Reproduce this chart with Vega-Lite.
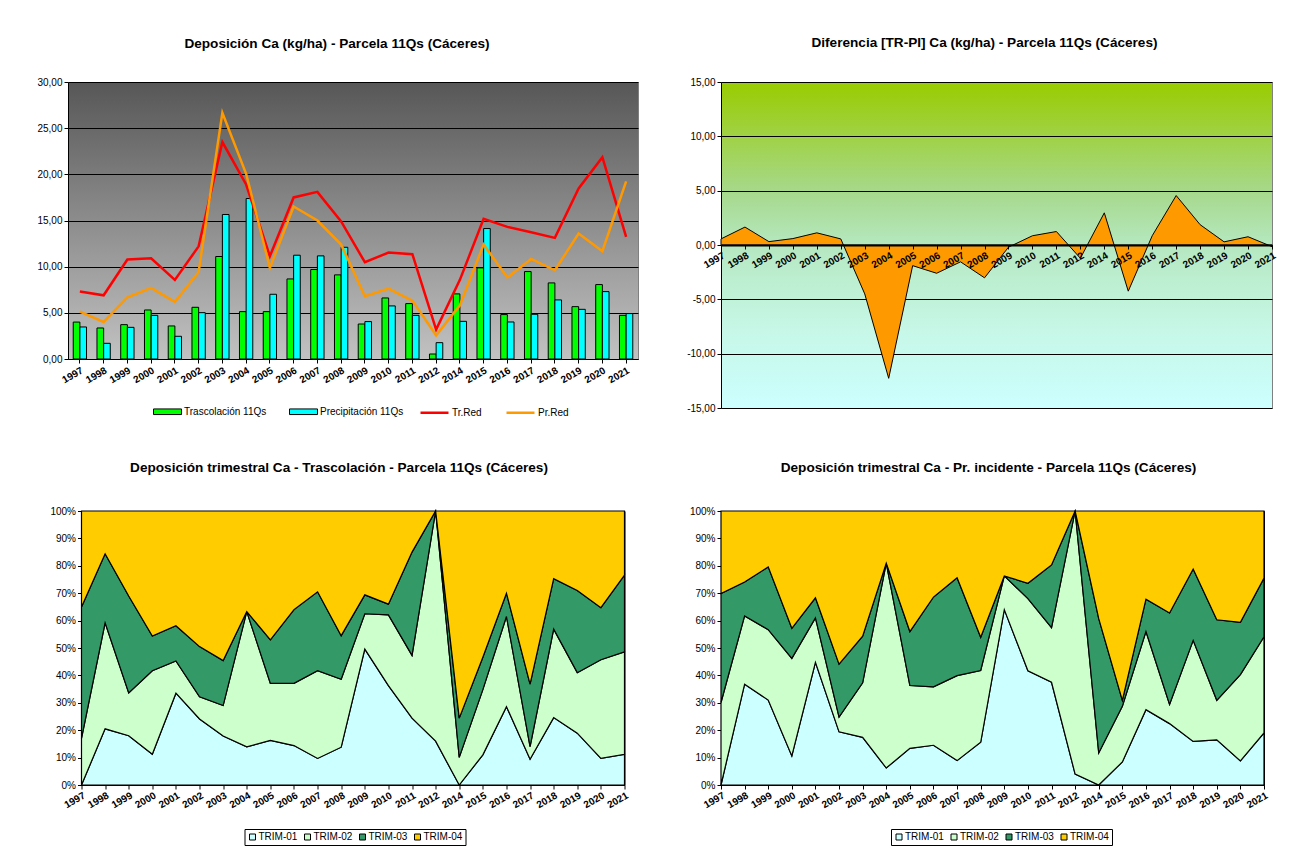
{
"$schema":"https://vega.github.io/schema/vega-lite/v6.json",
"background":"white",
"padding":{"left":36,"top":35,"right":5,"bottom":5},
"datasets":{
"bars":[
{"year":"1997","serie":"Trascolación  11Qs","value":4.0},{"year":"1998","serie":"Trascolación  11Qs","value":3.36},{"year":"1999","serie":"Trascolación  11Qs","value":3.72},{"year":"2000","serie":"Trascolación  11Qs","value":5.31},{"year":"2001","serie":"Trascolación  11Qs","value":3.58},{"year":"2002","serie":"Trascolación  11Qs","value":5.6},{"year":"2003","serie":"Trascolación  11Qs","value":11.1},{"year":"2004","serie":"Trascolación  11Qs","value":5.13},{"year":"2005","serie":"Trascolación  11Qs","value":5.13},{"year":"2006","serie":"Trascolación  11Qs","value":8.67},{"year":"2007","serie":"Trascolación  11Qs","value":9.69},{"year":"2008","serie":"Trascolación  11Qs","value":9.11},{"year":"2009","serie":"Trascolación  11Qs","value":3.79},{"year":"2010","serie":"Trascolación  11Qs","value":6.61},{"year":"2011","serie":"Trascolación  11Qs","value":6.0},{"year":"2012","serie":"Trascolación  11Qs","value":0.54},{"year":"2014","serie":"Trascolación  11Qs","value":7.05},{"year":"2015","serie":"Trascolación  11Qs","value":9.87},{"year":"2016","serie":"Trascolación  11Qs","value":4.81},{"year":"2017","serie":"Trascolación  11Qs","value":9.47},{"year":"2018","serie":"Trascolación  11Qs","value":8.24},{"year":"2019","serie":"Trascolación  11Qs","value":5.67},{"year":"2020","serie":"Trascolación  11Qs","value":8.06},{"year":"2021","serie":"Trascolación  11Qs","value":4.73},
{"year":"1997","serie":"Precipitación 11Qs","value":3.47},{"year":"1998","serie":"Precipitación 11Qs","value":1.7},{"year":"1999","serie":"Precipitación 11Qs","value":3.43},{"year":"2000","serie":"Precipitación 11Qs","value":4.73},{"year":"2001","serie":"Precipitación 11Qs","value":2.46},{"year":"2002","serie":"Precipitación 11Qs","value":5.02},{"year":"2003","serie":"Precipitación 11Qs","value":15.65},{"year":"2004","serie":"Precipitación 11Qs","value":17.38},{"year":"2005","serie":"Precipitación 11Qs","value":7.01},{"year":"2006","serie":"Precipitación 11Qs","value":11.24},{"year":"2007","serie":"Precipitación 11Qs","value":11.17},{"year":"2008","serie":"Precipitación 11Qs","value":12.1},{"year":"2009","serie":"Precipitación 11Qs","value":4.05},{"year":"2010","serie":"Precipitación 11Qs","value":5.75},{"year":"2011","serie":"Precipitación 11Qs","value":4.73},{"year":"2012","serie":"Precipitación 11Qs","value":1.77},{"year":"2014","serie":"Precipitación 11Qs","value":4.08},{"year":"2015","serie":"Precipitación 11Qs","value":14.13},{"year":"2016","serie":"Precipitación 11Qs","value":4.01},{"year":"2017","serie":"Precipitación 11Qs","value":4.84},{"year":"2018","serie":"Precipitación 11Qs","value":6.4},{"year":"2019","serie":"Precipitación 11Qs","value":5.38},{"year":"2020","serie":"Precipitación 11Qs","value":7.3},{"year":"2021","serie":"Precipitación 11Qs","value":4.92}
],
"lines":[
{"year":"1997","serie":"Tr.Red","value":7.3},{"year":"1998","serie":"Tr.Red","value":6.9},{"year":"1999","serie":"Tr.Red","value":10.77},{"year":"2000","serie":"Tr.Red","value":10.91},{"year":"2001","serie":"Tr.Red","value":8.57},{"year":"2002","serie":"Tr.Red","value":12.2},{"year":"2003","serie":"Tr.Red","value":23.5},{"year":"2004","serie":"Tr.Red","value":18.9},{"year":"2005","serie":"Tr.Red","value":11.13},{"year":"2006","serie":"Tr.Red","value":17.5},{"year":"2007","serie":"Tr.Red","value":18.1},{"year":"2008","serie":"Tr.Red","value":14.9},{"year":"2009","serie":"Tr.Red","value":10.48},{"year":"2010","serie":"Tr.Red","value":11.53},{"year":"2011","serie":"Tr.Red","value":11.35},{"year":"2012","serie":"Tr.Red","value":3.18},{"year":"2014","serie":"Tr.Red","value":8.57},{"year":"2015","serie":"Tr.Red","value":15.18},{"year":"2016","serie":"Tr.Red","value":14.31},{"year":"2017","serie":"Tr.Red","value":13.73},{"year":"2018","serie":"Tr.Red","value":13.12},{"year":"2019","serie":"Tr.Red","value":18.47},{"year":"2020","serie":"Tr.Red","value":21.86},{"year":"2021","serie":"Tr.Red","value":13.23},
{"year":"1997","serie":"Pr.Red","value":5.13},{"year":"1998","serie":"Pr.Red","value":4.01},{"year":"1999","serie":"Pr.Red","value":6.69},{"year":"2000","serie":"Pr.Red","value":7.7},{"year":"2001","serie":"Pr.Red","value":6.18},{"year":"2002","serie":"Pr.Red","value":9.43},{"year":"2003","serie":"Pr.Red","value":26.67},{"year":"2004","serie":"Pr.Red","value":20.06},{"year":"2005","serie":"Pr.Red","value":9.87},{"year":"2006","serie":"Pr.Red","value":16.52},{"year":"2007","serie":"Pr.Red","value":15.0},{"year":"2008","serie":"Pr.Red","value":12.4},{"year":"2009","serie":"Pr.Red","value":6.79},{"year":"2010","serie":"Pr.Red","value":7.63},{"year":"2011","serie":"Pr.Red","value":6.32},{"year":"2012","serie":"Pr.Red","value":2.57},{"year":"2014","serie":"Pr.Red","value":5.82},{"year":"2015","serie":"Pr.Red","value":12.4},{"year":"2016","serie":"Pr.Red","value":8.82},{"year":"2017","serie":"Pr.Red","value":10.84},{"year":"2018","serie":"Pr.Red","value":9.61},{"year":"2019","serie":"Pr.Red","value":13.59},{"year":"2020","serie":"Pr.Red","value":11.67},{"year":"2021","serie":"Pr.Red","value":19.23}
],
"diff":[
{"year":"1997","value":0.56},{"year":"1998","value":1.65},{"year":"1999","value":0.31},{"year":"2000","value":0.59},{"year":"2001","value":1.12},{"year":"2002","value":0.56},{"year":"2003","value":-4.5},{"year":"2004","value":-12.27},{"year":"2005","value":-1.9},{"year":"2006","value":-2.6},{"year":"2007","value":-1.55},{"year":"2008","value":-3.02},{"year":"2009","value":-0.2},{"year":"2010","value":0.85},{"year":"2011","value":1.24},{"year":"2012","value":-1.22},{"year":"2014","value":2.96},{"year":"2015","value":-4.25},{"year":"2016","value":0.85},{"year":"2017","value":4.55},{"year":"2018","value":1.87},{"year":"2019","value":0.29},{"year":"2020","value":0.76},{"year":"2021","value":-0.15}
],
"trasc":[
{"year":"1997","trim":"TRIM-01","value":0},{"year":"1997","trim":"TRIM-02","value":17},{"year":"1997","trim":"TRIM-03","value":48},{"year":"1997","trim":"TRIM-04","value":35},
{"year":"1998","trim":"TRIM-01","value":20.5},{"year":"1998","trim":"TRIM-02","value":38.7},{"year":"1998","trim":"TRIM-03","value":25.2},{"year":"1998","trim":"TRIM-04","value":15.6},
{"year":"1999","trim":"TRIM-01","value":18},{"year":"1999","trim":"TRIM-02","value":15.6},{"year":"1999","trim":"TRIM-03","value":35.4},{"year":"1999","trim":"TRIM-04","value":31},
{"year":"2000","trim":"TRIM-01","value":11.2},{"year":"2000","trim":"TRIM-02","value":30.5},{"year":"2000","trim":"TRIM-03","value":12.7},{"year":"2000","trim":"TRIM-04","value":45.6},
{"year":"2001","trim":"TRIM-01","value":33.5},{"year":"2001","trim":"TRIM-02","value":11.8},{"year":"2001","trim":"TRIM-03","value":12.8},{"year":"2001","trim":"TRIM-04","value":41.9},
{"year":"2002","trim":"TRIM-01","value":24.1},{"year":"2002","trim":"TRIM-02","value":8.1},{"year":"2002","trim":"TRIM-03","value":18.3},{"year":"2002","trim":"TRIM-04","value":49.5},
{"year":"2003","trim":"TRIM-01","value":17.9},{"year":"2003","trim":"TRIM-02","value":11.1},{"year":"2003","trim":"TRIM-03","value":16.4},{"year":"2003","trim":"TRIM-04","value":54.6},
{"year":"2004","trim":"TRIM-01","value":13.9},{"year":"2004","trim":"TRIM-02","value":49.4},{"year":"2004","trim":"TRIM-03","value":0},{"year":"2004","trim":"TRIM-04","value":36.7},
{"year":"2005","trim":"TRIM-01","value":16.3},{"year":"2005","trim":"TRIM-02","value":20.8},{"year":"2005","trim":"TRIM-03","value":15.9},{"year":"2005","trim":"TRIM-04","value":47},
{"year":"2006","trim":"TRIM-01","value":14.4},{"year":"2006","trim":"TRIM-02","value":22.7},{"year":"2006","trim":"TRIM-03","value":26.9},{"year":"2006","trim":"TRIM-04","value":36},
{"year":"2007","trim":"TRIM-01","value":9.7},{"year":"2007","trim":"TRIM-02","value":32},{"year":"2007","trim":"TRIM-03","value":28.8},{"year":"2007","trim":"TRIM-04","value":29.5},
{"year":"2008","trim":"TRIM-01","value":13.8},{"year":"2008","trim":"TRIM-02","value":24.8},{"year":"2008","trim":"TRIM-03","value":15.9},{"year":"2008","trim":"TRIM-04","value":45.5},
{"year":"2009","trim":"TRIM-01","value":49.6},{"year":"2009","trim":"TRIM-02","value":12.9},{"year":"2009","trim":"TRIM-03","value":6.9},{"year":"2009","trim":"TRIM-04","value":30.6},
{"year":"2010","trim":"TRIM-01","value":36.3},{"year":"2010","trim":"TRIM-02","value":25.8},{"year":"2010","trim":"TRIM-03","value":3.9},{"year":"2010","trim":"TRIM-04","value":34},
{"year":"2011","trim":"TRIM-01","value":24.4},{"year":"2011","trim":"TRIM-02","value":22.9},{"year":"2011","trim":"TRIM-03","value":37.7},{"year":"2011","trim":"TRIM-04","value":15},
{"year":"2012","trim":"TRIM-01","value":16},{"year":"2012","trim":"TRIM-02","value":84},{"year":"2012","trim":"TRIM-03","value":0},{"year":"2012","trim":"TRIM-04","value":0},
{"year":"2014","trim":"TRIM-01","value":0},{"year":"2014","trim":"TRIM-02","value":10.1},{"year":"2014","trim":"TRIM-03","value":14.3},{"year":"2014","trim":"TRIM-04","value":75.6},
{"year":"2015","trim":"TRIM-01","value":11},{"year":"2015","trim":"TRIM-02","value":23.8},{"year":"2015","trim":"TRIM-03","value":11.8},{"year":"2015","trim":"TRIM-04","value":53.4},
{"year":"2016","trim":"TRIM-01","value":28.6},{"year":"2016","trim":"TRIM-02","value":32.9},{"year":"2016","trim":"TRIM-03","value":8.5},{"year":"2016","trim":"TRIM-04","value":30},
{"year":"2017","trim":"TRIM-01","value":9.4},{"year":"2017","trim":"TRIM-02","value":4.6},{"year":"2017","trim":"TRIM-03","value":22.8},{"year":"2017","trim":"TRIM-04","value":63.2},
{"year":"2018","trim":"TRIM-01","value":24.6},{"year":"2018","trim":"TRIM-02","value":32.3},{"year":"2018","trim":"TRIM-03","value":18.4},{"year":"2018","trim":"TRIM-04","value":24.7},
{"year":"2019","trim":"TRIM-01","value":18.9},{"year":"2019","trim":"TRIM-02","value":22.1},{"year":"2019","trim":"TRIM-03","value":30},{"year":"2019","trim":"TRIM-04","value":29},
{"year":"2020","trim":"TRIM-01","value":9.7},{"year":"2020","trim":"TRIM-02","value":36},{"year":"2020","trim":"TRIM-03","value":19},{"year":"2020","trim":"TRIM-04","value":35.3},
{"year":"2021","trim":"TRIM-01","value":11.2},{"year":"2021","trim":"TRIM-02","value":37.4},{"year":"2021","trim":"TRIM-03","value":28},{"year":"2021","trim":"TRIM-04","value":23.4}
],
"prec":[
{"year":"1997","trim":"TRIM-01","value":0},{"year":"1997","trim":"TRIM-02","value":30.1},{"year":"1997","trim":"TRIM-03","value":39.8},{"year":"1997","trim":"TRIM-04","value":30.1},
{"year":"1998","trim":"TRIM-01","value":36.8},{"year":"1998","trim":"TRIM-02","value":24.9},{"year":"1998","trim":"TRIM-03","value":12.4},{"year":"1998","trim":"TRIM-04","value":25.9},
{"year":"1999","trim":"TRIM-01","value":31},{"year":"1999","trim":"TRIM-02","value":25.7},{"year":"1999","trim":"TRIM-03","value":22.9},{"year":"1999","trim":"TRIM-04","value":20.4},
{"year":"2000","trim":"TRIM-01","value":10.6},{"year":"2000","trim":"TRIM-02","value":35.6},{"year":"2000","trim":"TRIM-03","value":11},{"year":"2000","trim":"TRIM-04","value":42.8},
{"year":"2001","trim":"TRIM-01","value":44.8},{"year":"2001","trim":"TRIM-02","value":16.2},{"year":"2001","trim":"TRIM-03","value":7.3},{"year":"2001","trim":"TRIM-04","value":31.7},
{"year":"2002","trim":"TRIM-01","value":19.4},{"year":"2002","trim":"TRIM-02","value":5.4},{"year":"2002","trim":"TRIM-03","value":19.3},{"year":"2002","trim":"TRIM-04","value":55.9},
{"year":"2003","trim":"TRIM-01","value":17.4},{"year":"2003","trim":"TRIM-02","value":19.9},{"year":"2003","trim":"TRIM-03","value":17},{"year":"2003","trim":"TRIM-04","value":45.7},
{"year":"2004","trim":"TRIM-01","value":6.2},{"year":"2004","trim":"TRIM-02","value":74.8},{"year":"2004","trim":"TRIM-03","value":0},{"year":"2004","trim":"TRIM-04","value":19},
{"year":"2005","trim":"TRIM-01","value":13.4},{"year":"2005","trim":"TRIM-02","value":22.9},{"year":"2005","trim":"TRIM-03","value":19.7},{"year":"2005","trim":"TRIM-04","value":44},
{"year":"2006","trim":"TRIM-01","value":14.5},{"year":"2006","trim":"TRIM-02","value":21.3},{"year":"2006","trim":"TRIM-03","value":32.8},{"year":"2006","trim":"TRIM-04","value":31.4},
{"year":"2007","trim":"TRIM-01","value":8.9},{"year":"2007","trim":"TRIM-02","value":31},{"year":"2007","trim":"TRIM-03","value":35.7},{"year":"2007","trim":"TRIM-04","value":24.4},
{"year":"2008","trim":"TRIM-01","value":15.6},{"year":"2008","trim":"TRIM-02","value":26.2},{"year":"2008","trim":"TRIM-03","value":12.1},{"year":"2008","trim":"TRIM-04","value":46.1},
{"year":"2009","trim":"TRIM-01","value":64},{"year":"2009","trim":"TRIM-02","value":12.3},{"year":"2009","trim":"TRIM-03","value":0},{"year":"2009","trim":"TRIM-04","value":23.7},
{"year":"2010","trim":"TRIM-01","value":41.7},{"year":"2010","trim":"TRIM-02","value":26.3},{"year":"2010","trim":"TRIM-03","value":5.6},{"year":"2010","trim":"TRIM-04","value":26.4},
{"year":"2011","trim":"TRIM-01","value":37.5},{"year":"2011","trim":"TRIM-02","value":19.9},{"year":"2011","trim":"TRIM-03","value":22.9},{"year":"2011","trim":"TRIM-04","value":19.7},
{"year":"2012","trim":"TRIM-01","value":4},{"year":"2012","trim":"TRIM-02","value":96},{"year":"2012","trim":"TRIM-03","value":0},{"year":"2012","trim":"TRIM-04","value":0},
{"year":"2014","trim":"TRIM-01","value":0},{"year":"2014","trim":"TRIM-02","value":11.7},{"year":"2014","trim":"TRIM-03","value":49},{"year":"2014","trim":"TRIM-04","value":39.3},
{"year":"2015","trim":"TRIM-01","value":8.4},{"year":"2015","trim":"TRIM-02","value":20.3},{"year":"2015","trim":"TRIM-03","value":2.2},{"year":"2015","trim":"TRIM-04","value":69.1},
{"year":"2016","trim":"TRIM-01","value":27.5},{"year":"2016","trim":"TRIM-02","value":28.5},{"year":"2016","trim":"TRIM-03","value":11.8},{"year":"2016","trim":"TRIM-04","value":32.2},
{"year":"2017","trim":"TRIM-01","value":22.4},{"year":"2017","trim":"TRIM-02","value":7},{"year":"2017","trim":"TRIM-03","value":33.4},{"year":"2017","trim":"TRIM-04","value":37.2},
{"year":"2018","trim":"TRIM-01","value":15.9},{"year":"2018","trim":"TRIM-02","value":36.9},{"year":"2018","trim":"TRIM-03","value":26},{"year":"2018","trim":"TRIM-04","value":21.2},
{"year":"2019","trim":"TRIM-01","value":16.5},{"year":"2019","trim":"TRIM-02","value":14.4},{"year":"2019","trim":"TRIM-03","value":29.4},{"year":"2019","trim":"TRIM-04","value":39.7},
{"year":"2020","trim":"TRIM-01","value":8.8},{"year":"2020","trim":"TRIM-02","value":31.5},{"year":"2020","trim":"TRIM-03","value":19.1},{"year":"2020","trim":"TRIM-04","value":40.6},
{"year":"2021","trim":"TRIM-01","value":19},{"year":"2021","trim":"TRIM-02","value":35.1},{"year":"2021","trim":"TRIM-03","value":21.4},{"year":"2021","trim":"TRIM-04","value":24.5}
]
},
"columns":2,
"bounds":"flush",
"align":"each",
"center":{"row":false,"column":true},
"spacing":{"row":103,"column":83},
"resolve":{"scale":{"color":"independent","fill":"independent","stroke":"independent","x":"independent","y":"independent"},"legend":{"color":"independent","fill":"independent","stroke":"independent"}},
"concat":[
{
"width":570,"height":277,
"title":{"text":"Deposición Ca (kg/ha) - Parcela 11Qs (Cáceres)","offset":26,"dx":-16},
"view":{"fill":{"gradient":"linear","x1":0,"y1":0,"x2":0,"y2":1,"stops":[{"offset":0,"color":"#575757"},{"offset":1,"color":"#c2c2c2"}]},"stroke":"#808080"},
"layer":[
{"data":{"name":"bars"},
"mark":{"type":"bar","stroke":"black","strokeWidth":1},
"encoding":{
"x":{"field":"year","type":"ordinal","title":null,"scale":{"paddingInner":0.44,"paddingOuter":0.22},"axis":{"labelAngle":-30,"labelFontWeight":"bold","tickSize":4,"labelPadding":2}},
"xOffset":{"field":"serie","type":"nominal","scale":{"domain":["Trascolación  11Qs","Precipitación 11Qs"],"paddingInner":0}},
"y":{"field":"value","type":"quantitative","title":null,"scale":{"domain":[0,30],"nice":false},"axis":{"values":[0,5,10,15,20,25,30],"format":".2f","grid":true,"gridColor":"black","tickSize":4}},
"fill":{"field":"serie","type":"nominal","title":null,"scale":{"domain":["Trascolación  11Qs","Precipitación 11Qs"],"range":["#00ff00","#00ffff"]},"legend":{"orient":"none","legendX":85,"legendY":315,"direction":"horizontal","symbolType":"M-1,-0.2H1V0.2H-1Z","symbolSize":784,"symbolStrokeColor":"black","symbolStrokeWidth":1,"columnPadding":17,"labelOffset":2}}
}},
{"data":{"name":"lines"},
"mark":{"type":"line","strokeWidth":2.5},
"encoding":{
"x":{"field":"year","type":"ordinal"},
"y":{"field":"value","type":"quantitative"},
"stroke":{"field":"serie","type":"nominal","title":null,"scale":{"domain":["Tr.Red","Pr.Red"],"range":["#ff0000","#ff9900"]},"legend":{"orient":"none","legendX":351,"legendY":315,"direction":"horizontal","symbolType":"stroke","symbolSize":784,"symbolStrokeWidth":2.5,"columnPadding":19,"labelOffset":2}}
}}
]
},
{
"width":551,"height":326,
"title":{"text":"Diferencia [TR-PI] Ca (kg/ha) - Parcela 11Qs (Cáceres)","offset":27,"dx":-12},
"view":{"fill":{"gradient":"linear","x1":0,"y1":0,"x2":0,"y2":1,"stops":[{"offset":0,"color":"#99cc00"},{"offset":0.33,"color":"#a6d88a"},{"offset":0.5,"color":"#b5e8c0"},{"offset":0.75,"color":"#c6f7e6"},{"offset":1,"color":"#ccffff"}]},"stroke":"#808080"},
"data":{"name":"diff"},
"mark":{"type":"area","fill":"#ff9900","stroke":"black","strokeWidth":1,"opacity":1},
"encoding":{
"x":{"field":"year","type":"ordinal","title":null,"scale":{"type":"point","padding":0},"axis":{"offset":-163,"zindex":1,"labelAngle":-30,"labelFontWeight":"bold","domainWidth":2,"tickSize":4,"labelPadding":1}},
"y":{"field":"value","type":"quantitative","title":null,"scale":{"domain":[-15,15],"nice":false},"axis":{"values":[-15,-10,-5,0,5,10,15],"format":".2f","grid":true,"gridColor":"black","tickSize":4}}
}
},
{
"width":543,"height":274,
"title":{"text":"Deposición trimestral Ca - Trascolación - Parcela 11Qs (Cáceres)","offset":31,"dx":-14},
"view":{"stroke":"black"},
"data":{"name":"trasc"},
"mark":{"type":"area","stroke":"black","strokeWidth":1.2,"opacity":1},
"encoding":{
"x":{"field":"year","type":"ordinal","title":null,"scale":{"type":"point","padding":0},"axis":{"labelAngle":-30,"labelFontWeight":"bold","tickSize":4,"labelPadding":1}},
"y":{"field":"value","type":"quantitative","stack":"normalize","title":null,"scale":{"domain":[0,1]},"axis":{"values":[0,0.1,0.2,0.3,0.4,0.5,0.6,0.7,0.8,0.9,1],"format":".0%","grid":false,"tickSize":4}},
"color":{"field":"trim","type":"nominal","title":null,"scale":{"domain":["TRIM-01","TRIM-02","TRIM-03","TRIM-04"],"range":["#ccffff","#ccffcc","#339966","#ffcc00"]},"legend":{"orient":"none","legendX":163,"legendY":318,"direction":"horizontal","symbolType":"square","symbolSize":36,"symbolStrokeColor":"black","symbolStrokeWidth":1,"symbolOpacity":1,"strokeColor":"black","padding":3,"columnPadding":5,"labelOffset":1}},
"order":{"field":"trim","sort":"ascending"}
}
},
{
"width":543,"height":274,
"title":{"text":"Deposición trimestral Ca - Pr. incidente - Parcela 11Qs (Cáceres)","offset":31,"dx":-4},
"view":{"stroke":"black"},
"data":{"name":"prec"},
"mark":{"type":"area","stroke":"black","strokeWidth":1.2,"opacity":1},
"encoding":{
"x":{"field":"year","type":"ordinal","title":null,"scale":{"type":"point","padding":0},"axis":{"labelAngle":-30,"labelFontWeight":"bold","tickSize":4,"labelPadding":1}},
"y":{"field":"value","type":"quantitative","stack":"normalize","title":null,"scale":{"domain":[0,1]},"axis":{"values":[0,0.1,0.2,0.3,0.4,0.5,0.6,0.7,0.8,0.9,1],"format":".0%","grid":false,"tickSize":4}},
"color":{"field":"trim","type":"nominal","title":null,"scale":{"domain":["TRIM-01","TRIM-02","TRIM-03","TRIM-04"],"range":["#ccffff","#ccffcc","#339966","#ffcc00"]},"legend":{"orient":"none","legendX":170,"legendY":318,"direction":"horizontal","symbolType":"square","symbolSize":36,"symbolStrokeColor":"black","symbolStrokeWidth":1,"symbolOpacity":1,"strokeColor":"black","padding":3,"columnPadding":5,"labelOffset":1}},
"order":{"field":"trim","sort":"ascending"}
}
}
],
"config":{
"font":"Liberation Sans",
"locale":{"number":{"decimal":",","thousands":".","grouping":[3],"currency":["","€"],"minus":"-"}},
"title":{"font":"Liberation Sans","fontSize":13.6,"fontWeight":"bold","color":"black","anchor":"middle"},
"axis":{"labelFont":"Liberation Sans","labelFontSize":10,"labelColor":"black","domainColor":"black","tickColor":"black"},
"legend":{"labelFont":"Liberation Sans","labelFontSize":10,"labelColor":"black"}
}
}
